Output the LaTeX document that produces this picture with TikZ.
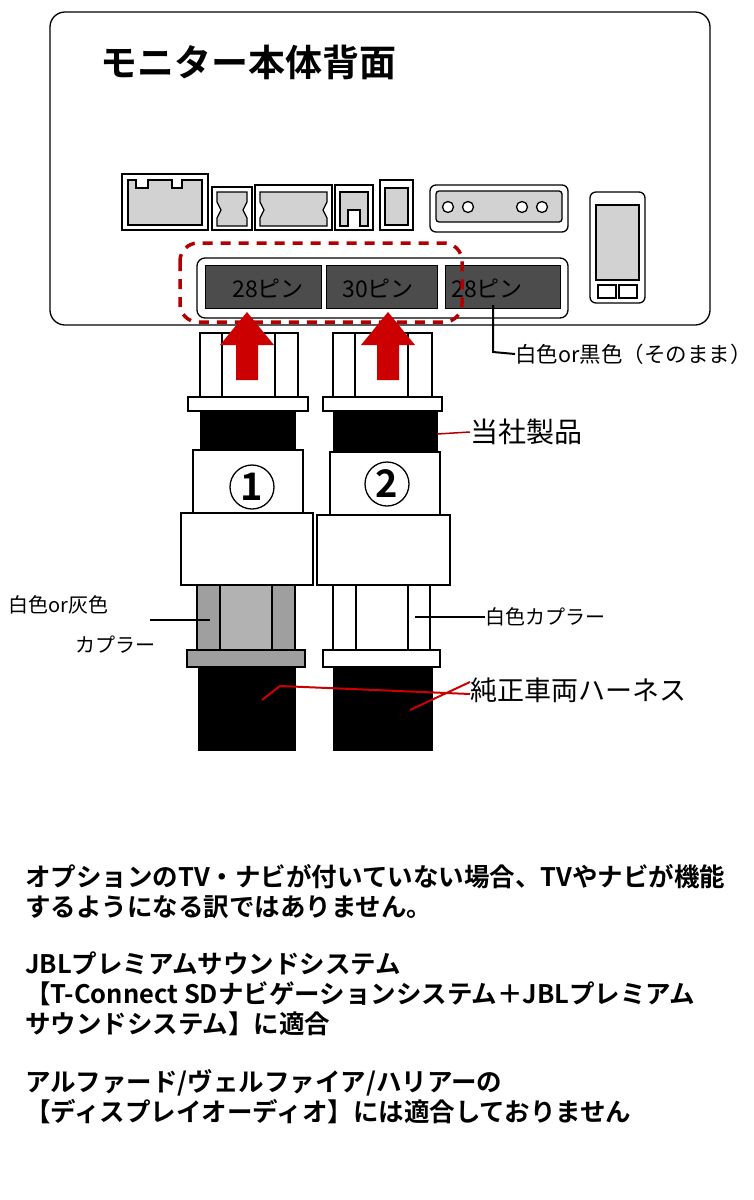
\documentclass[tikz,border=0pt]{standalone}
\usepackage{fontspec}
\setmainfont{Noto Sans CJK JP}
\newfontfamily\jpb{Noto Sans CJK JP Bold}
\begin{document}
\begin{tikzpicture}[x=1pt,y=-1pt,
  ln/.style={draw=black,line width=1.3pt},
  gr/.style={ln,fill=gray!35},
  dk/.style={draw=black,line width=1pt,fill=black!70},
  blk/.style={fill=black,draw=black},
  lbl/.style={anchor=west,inner sep=0pt,font=\fontsize{20}{22}\selectfont},
  pin/.style={anchor=center,inner sep=0pt,font=\fontsize{23}{24}\selectfont},
  note/.style={anchor=north west,inner sep=0pt,align=left,font=\jpb\fontsize{25.5}{30}\selectfont}]
\useasboundingbox (0,0) rectangle (753,1200);
\fill[white] (0,0) rectangle (753,1200);
% monitor
\draw[ln,rounded corners=15pt] (50,12) rectangle (710,325);
\node[anchor=west,inner sep=0pt,font=\jpb\fontsize{37}{38}\selectfont] (title) at (100,62) {モニター本体背面};
% top connectors
\draw[ln] (122,174) rectangle (208,230);
\draw[gr] (128,180) -- (136,180) -- (136,188) -- (148,188) -- (148,180) -- (172,180) -- (172,188)--(182,188)--(182,180)--(202,180)--(202,225)--(128,225)--cycle;
\draw[ln] (212,187) rectangle (252,230);
\draw[gr] (217,192) -- (247,192) -- (247,202) -- (243,210) -- (247,218) -- (247,226) -- (217,226) -- (217,218) -- (221,210) -- (217,202) -- cycle;
\draw[ln] (255,185) rectangle (332,230);
\draw[gr] (260,192) -- (327,192) -- (327,202) -- (323,210) -- (327,218) -- (327,226) -- (260,226) -- (260,218) -- (264,210) -- (260,202) -- cycle;
\draw[ln] (335,185) rectangle (373,230);
\draw[gr] (340,192) -- (368,192) -- (368,226) -- (360,226) -- (360,210) -- (348,210) -- (348,226) -- (340,226) -- cycle;
\draw[ln] (380,180) rectangle (413,230);
\draw[gr] (385,188) rectangle (408,225);
\draw[ln,rounded corners=6pt] (430,185) -- (568,185) -- (568,232) -- (430,232) -- cycle;
\draw[gr,rounded corners=3pt] (436,191) rectangle (562,222);
\foreach \cx in {448,468,522,542} \draw[ln,fill=white] (\cx,207) circle (5.5);
\draw[ln,rounded corners=6pt] (590,192) rectangle (645,303);
\draw[gr] (596,205) rectangle (639,280);
\draw[ln,fill=white] (598,285) rectangle (616,298);
\draw[ln,fill=white] (619,285) rectangle (637,298);
% pin row
\draw[ln,rounded corners=8pt] (197,258) rectangle (568,318);
\draw[dk] (205,265) rectangle (321,308);
\draw[dk] (326,265) rectangle (437,308);
\draw[dk] (445,265) rectangle (560,308);
\node[pin] (p1) at (268,288) {28ピン};
\node[pin] (p2) at (378,288) {30ピン};
\node[pin] (p3) at (487,288) {28ピン};
\draw[red!70!black,line width=3.5pt,dash pattern=on 10pt off 8pt,rounded corners=18pt] (180,243) rectangle (462,322);
% leader
\coordinate (lk) at (493,352);
\node[lbl,font=\fontsize{21.5}{22}\selectfont] (l1) at (515,354) {白色or黒色（そのまま）};
\draw[line width=2pt] (493,305) -- (lk) -- (l1.west);
% left product
\draw[ln,fill=white] (200,333) rectangle (298,397);
\draw[ln] (222,333) -- (222,397) (275,333) -- (275,397);
\draw[ln,fill=white] (188,397) rectangle (308,411);
\draw[blk] (200,411) rectangle (295,450);
\draw[ln,fill=white] (193,450) rectangle (303,513);
\draw[ln,fill=white] (181,513) rectangle (313,585);
\node[circle,draw,line width=1.3pt,minimum size=44pt,inner sep=0pt,font=\jpb\fontsize{38}{38}\selectfont] (n1) at (252,487) {1};
% right product
\draw[ln,fill=white] (333,333) rectangle (432,397);
\draw[ln] (355,333) -- (355,397) (408,333) -- (408,397);
\draw[ln,fill=white] (323,397) rectangle (442,411);
\draw[blk] (333,411) rectangle (437,452);
\draw[ln,fill=white] (330,452) rectangle (440,515);
\draw[ln,fill=white] (317,515) rectangle (450,585);
\node[circle,draw,line width=1.3pt,minimum size=44pt,inner sep=0pt,font=\jpb\fontsize{38}{38}\selectfont] (n2) at (387,484) {2};
% red arrows
\foreach \ax in {247,388}
  \fill[red!80!black] (\ax,312) -- (\ax+27,345) -- (\ax+11,345) -- (\ax+11,380) -- (\ax-11,380) -- (\ax-11,345) -- (\ax-27,345) -- cycle;
% 当社製品
\node[lbl,font=\fontsize{28}{30}\selectfont] (t1) at (470,432) {当社製品};
\draw[red!70!black,line width=1.5pt] (437,434) -- (t1.west);
% lower couplers
\draw[ln,fill=gray!75] (197,585) rectangle (295,650);
\draw[ln,fill=gray!60] (220,585) rectangle (272,650);
\draw[ln,fill=gray!75] (187,650) rectangle (305,667);
\draw[blk] (198,667) rectangle (295,750);
\draw[ln,fill=white] (333,585) rectangle (430,650);
\draw[ln] (356,585) -- (356,650) (408,585) -- (408,650);
\draw[ln,fill=white] (323,650) rectangle (440,667);
\draw[blk] (333,667) rectangle (432,750);
% labels
\node[lbl] (g1) at (8,605) {白色or灰色};
\node[lbl] (g2) at (75,645) {カプラー};
\coordinate (gc) at (210,620);
\draw[line width=2pt] (150,620) -- (gc);
\node[lbl] (w1) at (485,617) {白色カプラー};
\coordinate (wc) at (415,617);
\draw[line width=2pt] (wc) -- (w1.west);
\node[lbl,font=\fontsize{27}{30}\selectfont] (h1) at (470,690) {純正車両ハーネス};
\coordinate (hc1) at (262,700);
\coordinate (hc2) at (410,710);
\draw[red!80!black,line width=2pt] (hc1) -- (280,686) -- ([yshift=-4pt]h1.west);
\draw[red!80!black,line width=2pt] (hc2) -- ([yshift=8pt]h1.west);
% notes
\node[note] (nt1) at (25,864) {オプションのTV・ナビが付いていない場合、TVやナビが機能\\するようになる訳ではありません。};
\node[note] (nt2) at (25,952) {JBLプレミアムサウンドシステム\\【T-Connect SDナビゲーションシステム＋JBLプレミアム\\サウンドシステム】に適合};
\node[note] (nt3) at (25,1069) {アルファード/ヴェルファイア/ハリアーの\\【ディスプレイオーディオ】には適合しておりません};
\end{tikzpicture}
\end{document}
